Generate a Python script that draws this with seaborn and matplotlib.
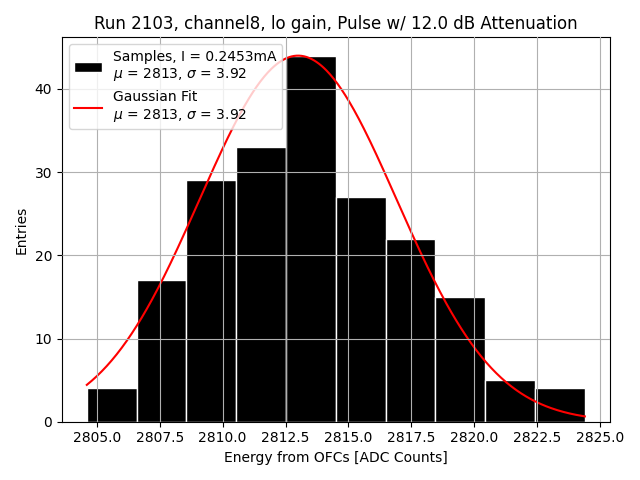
import numpy as np
import matplotlib
matplotlib.use("Agg")
import matplotlib.pyplot as plt
import seaborn as sns

# Data
bin_edges = [2804.6, 2806.58, 2808.56, 2810.54, 2812.52, 2814.5,
             2816.48, 2818.46, 2820.44, 2822.42, 2824.4]
counts = [4, 17, 29, 33, 44, 27, 22, 15, 5, 4]
fit_mu = 2813.0
fit_sigma = 3.92
fit_amp = 44.0
current_mA = 0.2453

title = "Run 2103, channel8, lo gain, Pulse w/ 12.0 dB Attenuation"
xlabel = "Energy from OFCs [ADC Counts]"
ylabel = "Entries"

centers = [(a + b) / 2 for a, b in zip(bin_edges[:-1], bin_edges[1:])]

fig, ax = plt.subplots(figsize=(6.4, 4.8), dpi=100)
hist_label = f"Samples, I = {current_mA}mA\n$\\mu$ = {fit_mu:.0f}, $\\sigma$ = {fit_sigma}"
fit_label = f"Gaussian Fit\n$\\mu$ = {fit_mu:.0f}, $\\sigma$ = {fit_sigma}"
sns.histplot(x=centers, weights=counts, bins=bin_edges, color="black",
             edgecolor="white", linewidth=1, alpha=1, ax=ax, label=hist_label)

xs = np.linspace(bin_edges[0], bin_edges[-1], 400)
ys = fit_amp * np.exp(-0.5 * ((xs - fit_mu) / fit_sigma) ** 2)
sns.lineplot(x=xs, y=ys, color="red", linewidth=1.5, ax=ax, label=fit_label)

ax.set_axisbelow(False)
ax.grid(True, color="#b0b0b0", linewidth=0.8)
ax.set_title(title)
ax.set_xlabel(xlabel)
ax.set_ylabel(ylabel)
handles, labels = ax.get_legend_handles_labels()
order = [labels.index(hist_label), labels.index(fit_label)]
ax.legend([handles[i] for i in order], [labels[i] for i in order], loc="upper left")
fig.tight_layout()
fig.savefig("out.png", dpi=100)
